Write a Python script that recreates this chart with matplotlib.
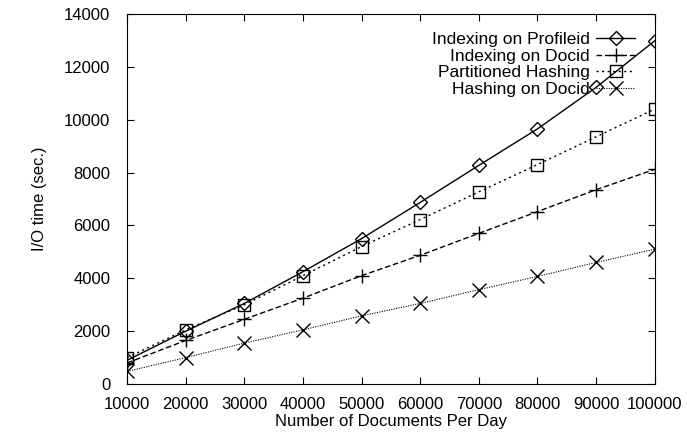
import matplotlib
matplotlib.use("Agg")
import matplotlib.pyplot as plt

plt.rcParams["font.family"] = ["Liberation Sans", "DejaVu Sans"]

docs_per_day = [10000, 20000, 30000, 40000, 50000, 60000, 70000, 80000, 90000, 100000]
idx_profileid = [900, 2000, 3050, 4250, 5500, 6870, 8270, 9650, 11220, 12980]
idx_docid = [800, 1650, 2450, 3250, 4100, 4870, 5700, 6520, 7350, 8120]
part_hashing = [1000, 2050, 3000, 4100, 5200, 6220, 7270, 8300, 9350, 10400]
hash_docid = [480, 1000, 1550, 2050, 2580, 3050, 3570, 4070, 4600, 5100]

fig = plt.figure(figsize=(6.87, 4.33), dpi=100)
ax = fig.add_axes([0.185, 0.113, 0.768, 0.855])

ax.plot(docs_per_day, idx_profileid, color="black", lw=1.0, ls="-",
        marker="D", ms=7, mfc="none", mew=1.0, label="Indexing on Profileid")
ax.plot(docs_per_day, idx_docid, color="black", lw=1.0, ls=(0, (4, 2)),
        marker="+", ms=10, mew=1.0, label="Indexing on Docid")
ax.plot(docs_per_day, part_hashing, color="black", lw=1.0, ls=(0, (1.5, 2.5)),
        marker="s", ms=9, mfc="none", mew=1.0, label="Partitioned Hashing")
ax.plot(docs_per_day, hash_docid, color="black", lw=0.8, ls=(0, (1, 1.2)),
        marker="x", ms=10, mew=1.0, label="Hashing on Docid")

ax.set_xlim(10000, 100000)
ax.set_ylim(0, 14000)
ax.set_xticks(range(10000, 100001, 10000))
ax.set_yticks(range(0, 14001, 2000))
ax.tick_params(direction="in", top=True, right=True, labelsize=12, length=5)
ax.tick_params(axis="x", pad=9)
ax.tick_params(axis="y", pad=12)
ax.set_xlabel("Number of Documents Per Day", fontsize=12, labelpad=2)
ax.set_ylabel("I/O time (sec.)", fontsize=12, labelpad=12)

ax.legend(loc="upper right", frameon=False, markerfirst=False, fontsize=12.5,
          handlelength=2.2, labelspacing=0.1, borderaxespad=0.3,
          bbox_to_anchor=(0.985, 0.985), handletextpad=0.4)

fig.savefig("out.png", dpi=100)
